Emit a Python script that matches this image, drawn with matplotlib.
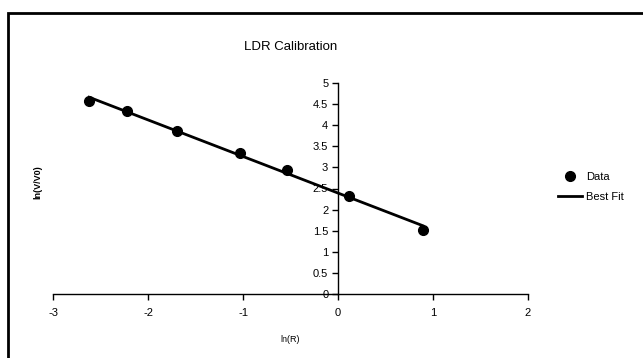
import numpy as np
import matplotlib
matplotlib.use("Agg")
import matplotlib.pyplot as plt
from matplotlib.patches import Rectangle

# data
ln_x = [-2.62, -2.22, -1.69, -1.03, -0.54, 0.12, 0.89]
ln_y = [4.57, 4.34, 3.86, 3.34, 2.94, 2.32, 1.52]
x_ticks = [-3, -2, -1, 0, 1, 2]
y_ticks = [0, 0.5, 1, 1.5, 2, 2.5, 3, 3.5, 4, 4.5, 5]

plt.rcParams['font.family'] = ['Liberation Sans', 'DejaVu Sans']
plt.rcParams['axes.unicode_minus'] = False

W, H = 643, 358
fig = plt.figure(figsize=(W / 100, H / 100), dpi=100)

# outer chart frame (cut off on the right and bottom)
fig.patches.append(Rectangle((8 / W, -0.1), 1.2, 1 - 13 / H + 0.1,
                             transform=fig.transFigure, fill=False,
                             edgecolor='black', linewidth=2))

ax = fig.add_axes([53 / W, 1 - 294 / H, (528 - 53) / W, (294 - 83) / H])
ax.set_xlim(-3, 2)
ax.set_ylim(0, 5)

ax.spines['left'].set_position(('data', 0))
ax.spines['top'].set_visible(False)
ax.spines['right'].set_visible(False)
for s in ('left', 'bottom'):
    ax.spines[s].set_linewidth(1)

ax.set_xticks(x_ticks)
ax.set_yticks(y_ticks)
ax.set_yticklabels([('%g' % v) for v in y_ticks])
ax.tick_params(axis='both', direction='out', length=4, width=1,
               labelsize=8, pad=3)
ax.tick_params(axis='x', pad=6)

# best fit line
m, c = np.polyfit(ln_x, ln_y, 1)
xf = np.array([min(ln_x), max(ln_x)])
ax.plot(xf, m * xf + c, color='black', linewidth=2, label='Best Fit', zorder=2)
ax.plot(ln_x, ln_y, 'o', color='black', markersize=7, label='Data', zorder=3)

ax.set_title('LDR Calibration', fontsize=9.5, pad=24)
fig.text(290 / W, 1 - 340 / H, 'ln(R)', fontsize=6.5, ha='center', va='center')
fig.text(38 / W, 1 - 182 / H, 'ln(V/V0)', fontsize=6.5, ha='center',
         va='center', rotation=90, fontweight='bold')

h, l = ax.get_legend_handles_labels()
fig.legend([h[1], h[0]], [l[1], l[0]], loc='center left',
           bbox_to_anchor=(548 / W, 1 - 187 / H), frameon=False,
           fontsize=8, handlelength=2.2, handletextpad=0.3, labelspacing=0.9)

fig.savefig('out.png', dpi=100)
